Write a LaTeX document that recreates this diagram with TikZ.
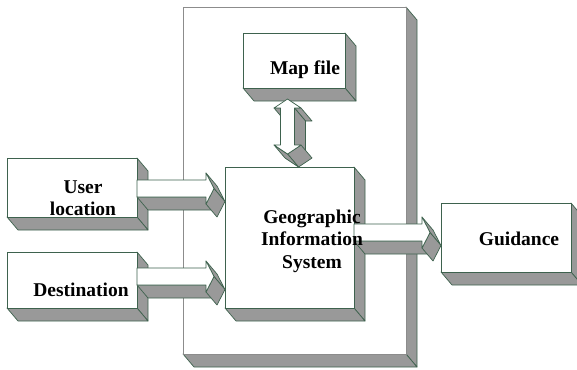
\documentclass[tikz,border=0pt]{standalone}
\usepackage{fontspec}
\setmainfont{LiberationSerif}[Extension=.ttf,UprightFont=*-Regular,BoldFont=*-Bold,ItalicFont=*-Italic,BoldItalicFont=*-BoldItalic]
\usetikzlibrary{calc}
\definecolor{extgray}{RGB}{153,153,153}
\definecolor{edgec}{RGB}{62,98,78}
\definecolor{contedge}{RGB}{140,140,140}
\newcommand\dX{11}
\newcommand\dY{13}
\tikzset{
  ext/.style={fill=extgray,draw=edgec,line width=0.7pt,line join=round},
  front/.style={fill=white,draw=edgec,line width=0.7pt,line join=round},
  slabnode/.style={rectangle,inner sep=0pt,outer sep=0pt,anchor=north west},
  lbl/.style={inner sep=0pt,align=center,font=\bfseries\fontsize{19.5}{22.5}\selectfont}
}
\newcommand\sidequad[2]{\filldraw[ext] (#1) -- (#2) -- ([shift={(\dX,\dY)}]#2) -- ([shift={(\dX,\dY)}]#1) -- cycle;}
\newcommand\slab[2][edgec]{%
  \sidequad{#2.north east}{#2.south east}
  \sidequad{#2.south east}{#2.south west}
  \filldraw[front,draw=#1] (#2.north west) rectangle (#2.south east);}
% right block arrow: #1 source, #2 target, #3 vertical offset, #4 prefix
\newcommand\rarrow[4]{%
  \coordinate (#4c) at ($(#2.west |- #1.east)+(0,#3)$);
  \coordinate (#4A) at ($(#1.east)+(0,#3-8.5)$);
  \coordinate (#4B) at ($(#4c)+(-19,-8.5)$);
  \coordinate (#4C) at ($(#4c)+(-19,-15.5)$);
  \coordinate (#4D) at ($(#4c)+(-11,0)$);
  \coordinate (#4E) at ($(#4c)+(-19,15.5)$);
  \coordinate (#4F) at ($(#4c)+(-19,8.5)$);
  \coordinate (#4G) at ($(#1.east)+(0,#3+8.5)$);
  \sidequad{#4F}{#4G}
  \sidequad{#4C}{#4D}
  \sidequad{#4D}{#4E}
  \filldraw[front] (#4A) -- (#4B) -- (#4C) -- (#4D) -- (#4E) -- (#4F) -- (#4G) -- cycle;}
\begin{document}
\begin{tikzpicture}[x=1pt,y=-1pt]
\clip (0,0) rectangle (577,369);
\fill[white] (0,0) rectangle (577,369);
% front faces as named nodes
\node[slabnode,minimum width=223pt,minimum height=347pt] (gisframe) at (183,7) {};
\node[slabnode,minimum width=102pt,minimum height=55pt] (map) at (243,33) {};
\node[slabnode,minimum width=129pt,minimum height=141pt] (gis) at (225,167) {};
\node[slabnode,minimum width=130pt,minimum height=59pt] (user) at (7,158) {};
\node[slabnode,minimum width=130pt,minimum height=56pt] (dest) at (7,252) {};
\node[slabnode,minimum width=130pt,minimum height=69pt] (guide) at (441,203) {};
% slabs
\slab[contedge]{gisframe}
\slab{map}
\slab{gis}
\slab{user}
\slab{dest}
\slab{guide}
% block arrows
\rarrow{user}{gis}{1}{ua}
\rarrow{dest}{gis}{-3.5}{da}
\rarrow{gis}{guide}{-5}{ga}
% double arrow between map and gis
\coordinate (vT) at ($(map.south -| gis.north)+(-2,11)$);
\coordinate (vB) at ($(gis.north)+(-2,-13)$);
\coordinate (vR1) at ($(vT)+(13.5,9)$);
\coordinate (vR2) at ($(vT)+(7,9)$);
\coordinate (vR3) at ($(vB)+(7,-9)$);
\coordinate (vR4) at ($(vB)+(13.5,-9)$);
\coordinate (vL4) at ($(vB)+(-13.5,-9)$);
\coordinate (vL3) at ($(vB)+(-7,-9)$);
\coordinate (vL2) at ($(vT)+(-7,9)$);
\coordinate (vL1) at ($(vT)+(-13.5,9)$);
\sidequad{vL2}{vL1}
\sidequad{vR1}{vR2}
\sidequad{vR2}{vR3}
\sidequad{vR4}{vB}
\sidequad{vB}{vL4}
\filldraw[front] (vT) -- (vR1) -- (vR2) -- (vR3) -- (vR4) -- (vB) -- (vL4) -- (vL3) -- (vL2) -- (vL1) -- cycle;
% labels
\node[lbl] (maplbl) at (305,70) {Map file};
\node[lbl] (gislbl) at (312,241) {Geographic\\Information\\System};
\node[lbl] (userlbl) at (83,198) {User\\location};
\node[lbl] (destlbl) at (81,290) {Destination};
\node[lbl] (guidelbl) at (519,239) {Guidance};
\end{tikzpicture}
\end{document}
